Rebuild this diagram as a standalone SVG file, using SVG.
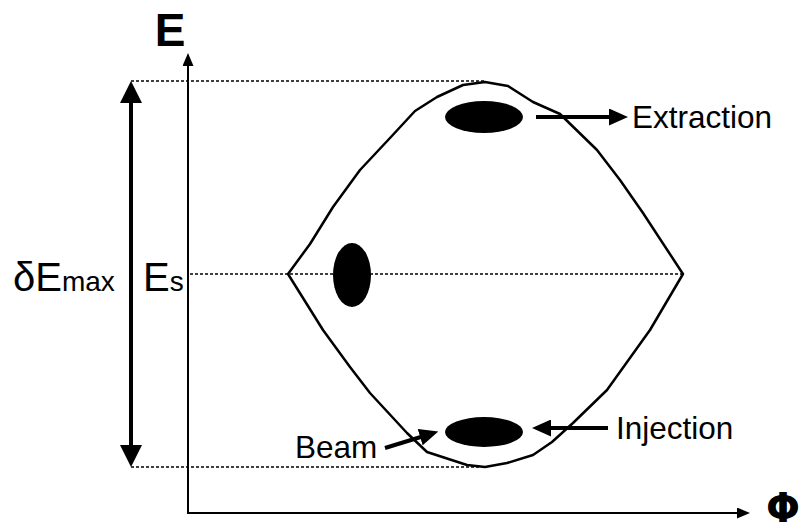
<svg xmlns="http://www.w3.org/2000/svg" width="801" height="532" viewBox="0 0 801 532">
<style>
.lbl{font-family:"Liberation Sans",Arial,sans-serif;fill:#000}
.bold{font-weight:bold}
.phi{font-family:"DejaVu Sans",sans-serif;font-weight:bold;fill:#000}
.dash{stroke:#000;stroke-width:1.3;stroke-dasharray:3 2;fill:none}
.axis{stroke:#000;stroke-width:2;fill:none}
.arr{stroke:#000;stroke-width:4;fill:none}
</style>
<defs>
<marker id="ah" markerUnits="userSpaceOnUse" markerWidth="13" markerHeight="11" refX="3" refY="5.5" orient="auto-start-reverse"><path d="M0,0 L13,5.5 L0,11 z" fill="#000"/></marker>
<marker id="big" markerUnits="userSpaceOnUse" markerWidth="22" markerHeight="22" refX="4" refY="11" orient="auto-start-reverse"><path d="M0,0 L22,11 L0,22 z" fill="#000"/></marker>
<marker id="mid" markerUnits="userSpaceOnUse" markerWidth="19" markerHeight="17" refX="4" refY="8.5" orient="auto-start-reverse"><path d="M0,0 L19,8.5 L0,17 z" fill="#000"/></marker>
</defs>
<rect width="801" height="532" fill="#fff"/>
<g id="guides">
<line class="dash" x1="131" y1="81" x2="485" y2="81"/>
<line class="dash" x1="190" y1="274" x2="683" y2="274"/>
<line class="dash" x1="131" y1="467" x2="480" y2="467"/>
</g>
<g id="axes">
<line class="axis" x1="188" y1="514" x2="188" y2="63" marker-end="url(#ah)"/>
<line class="axis" x1="187" y1="513" x2="740" y2="513" marker-end="url(#ah)"/>
<text class="lbl bold" x="170" y="46" font-size="46" text-anchor="middle">E</text>
<text class="phi" x="783" y="522" font-size="40" text-anchor="middle">Φ</text>
</g>
<g id="separatrix">
<polygon points="288,274 310,244 333,207 360,170 390,138 415,111 437,97 463,85 485,82 508,86 533,102 560,114 597,150 620,180 643,213 683,274 650,330 607,390 573,423 552,442 533,455 507,463 485,467 467,465 427,452 407,433 370,393 350,367 323,330" fill="none" stroke="#000" stroke-width="2.5" stroke-linejoin="round"/>
</g>
<g id="bunch-extraction"><ellipse cx="484" cy="117" rx="39" ry="16" fill="#000"/></g>
<g id="bunch-synchronous"><ellipse cx="352" cy="275" rx="19" ry="32" fill="#000"/></g>
<g id="bunch-injection"><ellipse cx="484" cy="432" rx="39" ry="15" fill="#000"/></g>
<g id="label-extraction"><text class="lbl" x="632" y="128" font-size="31.5">Extraction</text></g>
<g id="label-injection"><text class="lbl" x="616" y="439" font-size="31.5">Injection</text></g>
<g id="label-beam"><text class="lbl" x="295" y="458" font-size="31.5">Beam</text></g>
<g id="label-demax"><text class="lbl" x="13" y="291" font-size="40">δE<tspan font-size="28">max</tspan></text></g>
<g id="label-es"><text class="lbl" x="143" y="291" font-size="40">E<tspan font-size="28">s</tspan></text></g>
<g id="connectors">
<line class="arr" stroke-width="5" x1="131" y1="99" x2="131" y2="449" marker-start="url(#big)" marker-end="url(#big)"/>
<line class="arr" x1="536" y1="117" x2="613" y2="117" marker-end="url(#mid)"/>
<line class="arr" x1="608" y1="428" x2="547" y2="428" marker-end="url(#mid)"/>
<line class="arr" x1="385" y1="448" x2="424" y2="436" marker-end="url(#mid)"/>
</g>
</svg>
